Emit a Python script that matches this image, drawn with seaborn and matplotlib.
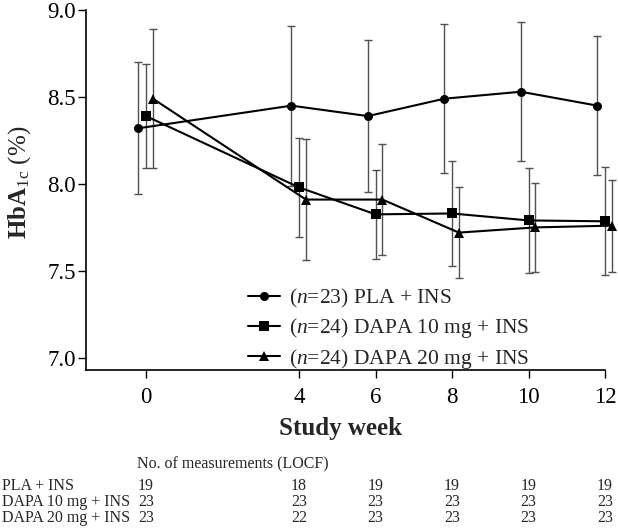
import numpy as np
import pandas as pd
import seaborn as sns
import matplotlib.pyplot as plt
from matplotlib.lines import Line2D
from matplotlib.transforms import blended_transform_factory

# values
weeks = [0, 4, 6, 8, 10, 12]
groups = ["PLA + INS", "DAPA 10 mg + INS", "DAPA 20 mg + INS"]
group_n = [23, 24, 24]

pla_mean = [8.32, 8.45, 8.39, 8.49, 8.53, 8.45]
pla_sd = [0.38, 0.46, 0.435, 0.43, 0.40, 0.40]
dapa10_mean = [8.39, 7.98, 7.825, 7.83, 7.79, 7.785]
dapa10_sd = [0.30, 0.283, 0.257, 0.30, 0.30, 0.31]
dapa20_mean = [8.49, 7.91, 7.91, 7.72, 7.75, 7.76]
dapa20_sd = [0.40, 0.35, 0.317, 0.26, 0.255, 0.265]

pla_count = [19, 18, 19, 19, 19, 19]
dapa10_count = [23, 23, 23, 23, 23, 23]
dapa20_count = [23, 22, 23, 23, 23, 23]

y_ticks = [7.0, 7.5, 8.0, 8.5, 9.0]


def main():
    sns.set_theme(style="ticks")
    plt.rcParams["font.family"] = ["Liberation Serif", "DejaVu Serif"]
    plt.rcParams["mathtext.fontset"] = "custom"
    plt.rcParams["mathtext.rm"] = "Liberation Serif"
    plt.rcParams["mathtext.it"] = "Liberation Serif:italic"
    plt.rcParams["mathtext.bf"] = "Liberation Serif:bold"

    means = [pla_mean, dapa10_mean, dapa20_mean]
    sds = [pla_sd, dapa10_sd, dapa20_sd]
    counts = [pla_count, dapa10_count, dapa20_count]
    markers = ["o", "s", "^"]
    dodge = [-0.2, 0.0, 0.18]  # small horizontal shift so the bars don't overlap
    labels = [r"($\it{n}$=%d) %s" % (n, g) for n, g in zip(group_n, groups)]

    rows = []
    for i, lab in enumerate(labels):
        for j, w in enumerate(weeks):
            rows.append({"week": w + dodge[i], "mean": means[i][j],
                         "sd": sds[i][j], "group": lab})
    df = pd.DataFrame(rows)

    fig = plt.figure(figsize=(6.18, 5.29), dpi=100)
    ax = fig.add_axes([86 / 618, 1 - 370 / 529, (605 - 86) / 618, 360 / 529])

    # SD bars first, in grey, behind the lines
    for lab in labels:
        sub = df[df["group"] == lab]
        ax.errorbar(sub["week"], sub["mean"], yerr=sub["sd"], fmt="none",
                    ecolor="#505050", elinewidth=1.0, capsize=2.6,
                    capthick=1.0, zorder=1, clip_on=False)

    sns.lineplot(data=df, x="week", y="mean", style="group",
                 markers=markers, dashes=False, color="black",
                 linewidth=1.5, markersize=6.5, markeredgewidth=0,
                 errorbar=None, legend=False, ax=ax, zorder=3, clip_on=False)

    ax.set_xlim(-1.57, 12)
    ax.set_ylim(6.93, 9.0)
    ax.set_xticks(weeks)
    ax.set_yticks(y_ticks)
    ax.set_yticklabels(["%.1f" % v for v in y_ticks])
    ax.tick_params(axis="both", labelsize=16.5, length=6, width=1.0,
                   color="black", labelcolor="black")
    ax.tick_params(axis="y", pad=1.5)
    ax.tick_params(axis="x", pad=6)
    sns.despine(ax=ax)
    for s in ["left", "bottom"]:
        ax.spines[s].set_color("black")
        ax.spines[s].set_linewidth(1.2)

    ax.set_xlabel("Study week", fontsize=18, fontweight="bold")
    ax.set_ylabel(r"$\mathbf{HbA}_{\mathrm{1c}}$ (%)", fontsize=18)
    ax.xaxis.set_label_coords(0.49, -0.13)
    ax.yaxis.set_label_coords(-0.103, 0.52)

    handles = [Line2D([], [], color="black", marker=m, markersize=6.5,
                      markeredgewidth=0, linewidth=1.5) for m in markers]
    ax.legend(handles, labels, loc="upper left",
              bbox_to_anchor=(248 / 618, 1 - 287 / 529),
              bbox_transform=fig.transFigure, frameon=False, fontsize=15.5,
              handlelength=1.5, handletextpad=0.4, labelspacing=0.3,
              borderpad=0, borderaxespad=0)

    # table of measurement counts under the plot
    trans = blended_transform_factory(ax.transData, fig.transFigure)
    ax.text(-0.24, 1 - 464 / 529, "No. of measurements (LOCF)", transform=trans,
            fontsize=11.5, ha="left", va="center", clip_on=False)
    row_y = [485.5, 501.5, 517.5]
    for i, g in enumerate(groups):
        fig.text(2 / 618, 1 - row_y[i] / 529, g, fontsize=11.5,
                 ha="left", va="center")
        for j, w in enumerate(weeks):
            ax.text(w, 1 - row_y[i] / 529, str(counts[i][j]), transform=trans,
                    fontsize=11.5, ha="center", va="center", clip_on=False)

    fig.savefig("out.png", dpi=100)


if __name__ == "__main__":
    main()
